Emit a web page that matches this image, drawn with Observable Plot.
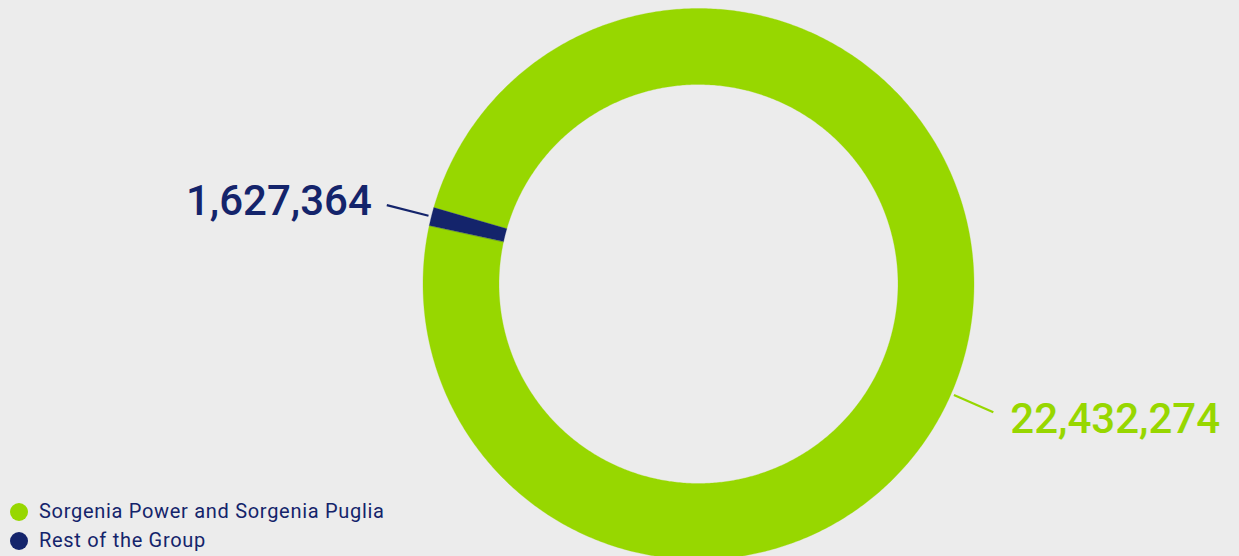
<!DOCTYPE html>
<html>
<head>
<meta charset="utf-8">
<script src="https://cdn.jsdelivr.net/npm/d3@7"></script>
<script src="https://cdn.jsdelivr.net/npm/@observablehq/plot@0.6"></script>
<style>
  html, body { margin: 0; padding: 0; background: #ececec; }
  #wrap { position: relative; width: 1239px; height: 556px; overflow: hidden; background: #ececec; }
  #legend { position: absolute; left: 10px; top: 497px; font-family: Roboto, "DejaVu Sans", sans-serif; font-size: 20px; letter-spacing: 0.7px; color: #14246b; line-height: 29px; }
  #legend .item { display: flex; align-items: center; white-space: nowrap; }
  #legend .sw { width: 18px; height: 18px; border-radius: 50%; margin-right: 11px; display: inline-block; }
</style>
</head>
<body>
<div id="wrap"><div id="legend"></div></div>
<script>
// ---- data ----
const categories = ["Sorgenia Power and Sorgenia Puglia", "Rest of the Group"];
const values = [22432274, 1627364];                 // labelled values
const drawnShare = [98.94, 1.06];                   // angular share of each slice as drawn in the picture (%)
const valueLabels = ["22,432,274", "1,627,364"];
const colors = ["#97d700", "#14246b"];

// ---- layout (pixel-units around the donut centre) ----
const W = 1239, H = 556, CX = 698, CY = 283.5;
const R_OUT = 275.5, R_IN = 199.5;
const deg = Math.PI / 180;
const startAngle = -73.9 * deg;
const labelAngleOffset = [9.3 * deg, 0];
const labelRadius = [340, 337];

const slices = categories.map((c, i) => ({name: c, value: values[i], share: drawnShare[i], label: valueLabels[i], idx: i}));
const arcs = d3.pie().sort(null).value(d => d.share).startAngle(startAngle).endAngle(startAngle + 2 * Math.PI)(slices);

const pt = (r, a) => ({x: r * Math.sin(a), y: -r * Math.cos(a)});

// polygon outlines of each ring segment
const poly = [];
for (const a of arcs) {
  const n = Math.max(4, Math.ceil((a.endAngle - a.startAngle) / (0.5 * deg)));
  for (let k = 0; k <= n; k++) {
    const t = a.startAngle + (a.endAngle - a.startAngle) * k / n;
    poly.push({name: a.data.name, ...pt(R_OUT, t)});
  }
  for (let k = n; k >= 0; k--) {
    const t = a.startAngle + (a.endAngle - a.startAngle) * k / n;
    poly.push({name: a.data.name, ...pt(R_IN, t)});
  }
}

// labels and leader lines
const labels = arcs.map((a, i) => {
  const ang = (a.startAngle + a.endAngle) / 2 + labelAngleOffset[i];
  const p1 = pt(R_OUT + 3, ang), p2 = pt(R_OUT + 46, ang), pl = pt(labelRadius[i], ang);
  return {name: a.data.name, label: a.data.label, x1: p1.x, y1: p1.y, x2: p2.x, y2: p2.y, lx: pl.x, ly: pl.y,
          anchor: Math.sin(ang) < 0 ? "end" : "start"};
});

const colorScale = {domain: categories, range: colors};

const chart = Plot.plot({
  width: W, height: H,
  marginTop: 0, marginRight: 0, marginBottom: 0, marginLeft: 0,
  x: {domain: [-CX, W - CX], range: [0, W], axis: null},
  y: {domain: [-CY, H - CY], range: [0, H], axis: null},
  color: colorScale,
  style: {background: "transparent", overflow: "visible"},
  marks: [
    Plot.line(poly, {x: "x", y: "y", z: "name", fill: "name", stroke: "name", strokeWidth: 0.3, curve: "linear-closed"}),
    Plot.link(labels, {x1: "x1", y1: "y1", x2: "x2", y2: "y2", stroke: "name", strokeWidth: 2.2}),
    Plot.text(labels.filter(d => d.anchor === "end"), {x: "lx", y: "ly", text: "label", fill: "name", textAnchor: "end",
      fontSize: 42, fontWeight: 500, fontFamily: "Roboto, sans-serif", lineAnchor: "middle"}),
    Plot.text(labels.filter(d => d.anchor === "start"), {x: "lx", y: "ly", text: "label", fill: "name", textAnchor: "start",
      fontSize: 42, fontWeight: 500, fontFamily: "Roboto, sans-serif", lineAnchor: "middle"})
  ]
});
chart.style.position = "absolute";
chart.style.left = "0";
chart.style.top = "0";
document.getElementById("wrap").prepend(chart);

const legend = document.getElementById("legend");
categories.forEach((c, i) => {
  const d = document.createElement("div");
  d.className = "item";
  d.innerHTML = `<span class="sw" style="background:${colors[i]}"></span><span>${c}</span>`;
  legend.appendChild(d);
});
</script>
</body>
</html>
